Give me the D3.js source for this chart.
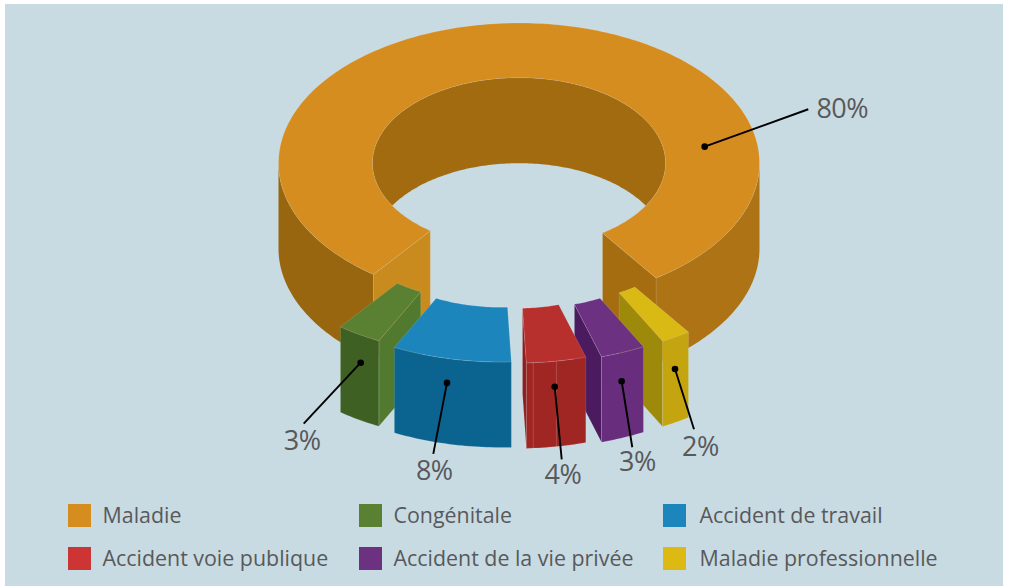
<!DOCTYPE html>
<html>
<head>
<meta charset="utf-8">
<script src="https://cdn.jsdelivr.net/npm/d3@7"></script>
<style>
  html, body { margin: 0; padding: 0; background: #fff; }
  svg { display: block; }
  text { font-family: "Open Sans", sans-serif; fill: #58595b; }
</style>
</head>
<body>
<svg id="chart"></svg>
<script>
const categories = ["Maladie", "Congénitale", "Accident de travail", "Accident voie publique", "Accident de la vie privée", "Maladie professionnelle"];
const values = [80, 3, 8, 4, 3, 2];

const legendColors = ["#d58d20", "#5a8032", "#1c85bc", "#cc3534", "#6d3182", "#dcb913"];
const topColors = ["#d58d20", "#5a8032", "#1c85bc", "#b8302e", "#6d3182", "#d9b914"];
const wallColors = ["#ad7314", "#3e6123", "#0b638f", "#9f2623", "#682d7c", "#c4a510"];
const sideColors = ["#a56c10", "#527a2e", "#0b638f", "#8e1f1f", "#4c1a5e", "#9e8a0a"];

// how far each slice is pulled out of the ring
const explodeX = [0, -33, -17.5, -2.5, 13.2, 32.4];
const explodeY = [0, 52.4, 59, 60, 59.6, 54];

// leader lines: nudge of the dot, then line end from the dot, then label from the line end
const dotNudge = [[-5.7, 0.3], [1.6, 28.4], [-4.3, 24], [-1.7, 25.7], [-1.2, 29], [-0.8, 32.2]];
const leaderEnd = [[103.6, -37.4], [-57, 61], [-13.7, 71], [7, 72.6], [10.6, 66], [19, 60.3]];
const labelShift = [[34, 8.7], [-1.5, 26], [1, 26], [1.3, 24.7], [5.2, 23.4], [6.5, 26.7]];

const width = 1010;
const height = 587;
const bg = "#c8dbe3";

const cx = 519;
const cy = 163;
const rxOut = 240.5;
const ryOut = 140;
const rxIn = 146.5;
const ryIn = 85.3;
const depth = 85.5;
const rad = Math.PI / 180;
const startDeg = 145.25;
const maladieLabelAngle = 81.5 * rad;
const redSeamDeg = [176, 170.45];

const svg = d3.select("#chart").attr("width", width).attr("height", height);

svg.append("rect")
  .attr("x", 5).attr("y", 4)
  .attr("width", 998).attr("height", 582)
  .attr("fill", bg);

const pie = d3.pie()
  .sort(null)
  .startAngle(startDeg * rad)
  .endAngle((startDeg - 360) * rad);
const slices = pie(values);

const line = d3.line();

function pt(a, rx, ry, dx = 0, dy = 0) {
  return [cx + rx * Math.sin(a) + dx, cy - ry * Math.cos(a) + dy];
}

function arcPts(a0, a1, rx, ry, dx, dy) {
  const n = Math.max(2, Math.ceil(Math.abs(a1 - a0) / (1 * rad)));
  return d3.range(n + 1).map(i => pt(a0 + (a1 - a0) * i / n, rx, ry, dx, dy));
}

function topPath(a0, a1, dx, dy) {
  return line(arcPts(a0, a1, rxOut, ryOut, dx, dy).concat(arcPts(a1, a0, rxIn, ryIn, dx, dy))) + "Z";
}

function wallPath(a0, a1, dx, dy) {
  return line(arcPts(a0, a1, rxOut, ryOut, dx, dy).concat(arcPts(a1, a0, rxOut, ryOut, dx, dy + depth))) + "Z";
}

function sidePath(a, dx, dy) {
  return line([
    pt(a, rxOut, ryOut, dx, dy),
    pt(a, rxIn, ryIn, dx, dy),
    pt(a, rxIn, ryIn, dx, dy + depth),
    pt(a, rxOut, ryOut, dx, dy + depth)
  ]) + "Z";
}

const seam = { stroke: "#fff", opacity: 0.18, width: 0.7 };

function face(g, d, fill) {
  return g.append("path")
    .attr("d", d)
    .attr("fill", fill)
    .attr("stroke", seam.stroke)
    .attr("stroke-opacity", seam.opacity)
    .attr("stroke-width", seam.width)
    .attr("stroke-linejoin", "round");
}

// big ring first
const ring = svg.append("g");
const m = slices[0];
ring.append("path").attr("d", wallPath(-90 * rad, m.endAngle, 0, 0)).attr("fill", "#98660f");
ring.append("path").attr("d", wallPath(m.startAngle, 90 * rad, 0, 0)).attr("fill", wallColors[0]);
face(ring, sidePath(m.startAngle, 0, 0), sideColors[0]);
face(ring, sidePath(m.endAngle, 0, 0), "#c98a1e");

// inner wall, with the hole cut out by a copy of the rim moved down
const rimPts = arcPts(m.startAngle, m.endAngle, rxIn, ryIn, 0, 0);
svg.append("clipPath").attr("id", "innerClip")
  .append("path").attr("d", line(arcPts(0, 2 * Math.PI, rxIn, ryIn, 0, 0)) + "Z");
ring.append("path").attr("d", line(rimPts) + "Z").attr("fill", "#a26b0f");
ring.append("path")
  .attr("d", line(arcPts(0, 2 * Math.PI, rxIn, ryIn, 0, depth)) + "Z")
  .attr("clip-path", "url(#innerClip)")
  .attr("fill", bg);
face(ring, topPath(m.startAngle, m.endAngle, 0, 0), topColors[0]);

// pulled out slices, back ones first. only the radial side facing us is drawn
[1, 2, 5, 4, 3].forEach(i => {
  const s = slices[i];
  const dx = explodeX[i];
  const dy = explodeY[i];
  const g = svg.append("g");
  if (Math.sin(s.startAngle) > 0) face(g, sidePath(s.startAngle, dx, dy), sideColors[i]);
  if (Math.sin(s.endAngle) < 0) face(g, sidePath(s.endAngle, dx, dy), sideColors[i]);
  face(g, wallPath(s.startAngle, s.endAngle, dx, dy), wallColors[i]);
  face(g, topPath(s.startAngle, s.endAngle, dx, dy), topColors[i]);
  if (i === 3) {
    redSeamDeg.forEach(a => {
      const p = pt(a * rad, rxOut, ryOut, dx, dy);
      g.append("line")
        .attr("x1", p[0]).attr("y1", p[1])
        .attr("x2", p[0]).attr("y2", p[1] + depth)
        .attr("stroke", "#fff")
        .attr("stroke-opacity", 0.22)
        .attr("stroke-width", 0.8);
    });
  }
});

// leader lines and percentages
const leaders = svg.append("g");
slices.forEach((s, i) => {
  const mid = (s.startAngle + s.endAngle) / 2;
  const base = i === 0
    ? pt(maladieLabelAngle, (rxOut + rxIn) / 2, (ryOut + ryIn) / 2)
    : pt(mid, rxOut, ryOut, explodeX[i], explodeY[i]);
  const x0 = base[0] + dotNudge[i][0];
  const y0 = base[1] + dotNudge[i][1];
  const x1 = x0 + leaderEnd[i][0];
  const y1 = y0 + leaderEnd[i][1];

  leaders.append("line")
    .attr("x1", x0).attr("y1", y0)
    .attr("x2", x1).attr("y2", y1)
    .attr("stroke", "#000")
    .attr("stroke-width", 1.9);
  leaders.append("circle")
    .attr("cx", x0).attr("cy", y0)
    .attr("r", 3.3)
    .attr("fill", "#000");
  leaders.append("text")
    .attr("x", x1 + labelShift[i][0])
    .attr("y", y1 + labelShift[i][1])
    .attr("text-anchor", "middle")
    .attr("font-size", 27)
    .attr("letter-spacing", -0.5)
    .text(values[i] + "%");
});

// legend, two rows of three
const legendCol = d3.scaleOrdinal().domain([0, 1, 2]).range([68, 359, 663]);
const legendRow = d3.scaleOrdinal().domain([0, 1]).range([504, 547]);

const legend = svg.selectAll(".legend")
  .data(categories)
  .enter().append("g")
  .attr("class", "legend")
  .attr("transform", (d, i) => `translate(${legendCol(i % 3)},${legendRow(Math.floor(i / 3))})`);

legend.append("rect")
  .attr("width", 23)
  .attr("height", 23)
  .attr("fill", (d, i) => legendColors[i]);

legend.append("text")
  .attr("x", (d, i) => (i % 3 === 2 ? 36.5 : 34.5))
  .attr("y", 19)
  .attr("font-size", 21.4)
  .text(d => d);
</script>
</body>
</html>
